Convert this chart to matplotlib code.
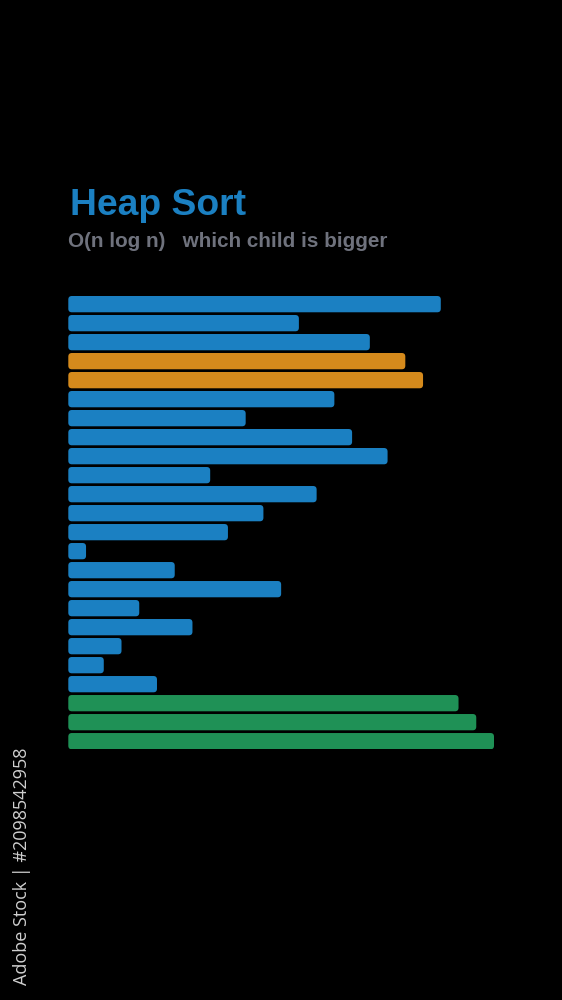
import numpy as np
import matplotlib
matplotlib.use("Agg")
import matplotlib.pyplot as plt
from matplotlib.patches import FancyBboxPatch

# bar values, top to bottom (heap sort snapshot)
values = [21, 13, 17, 19, 20, 15, 10, 16, 18, 8, 14, 11, 9, 1, 6, 12, 4, 7, 3, 2, 5, 22, 23, 24]
# state of each bar: heap / compared / sorted
states = ["heap"] * 3 + ["compare"] * 2 + ["heap"] * 16 + ["sorted"] * 3

title = "Heap Sort"
subtitle = "O(n log n)   which child is bigger"
stock_id = "Adobe Stock | #2098542958"

state_colors = {"heap": "#1b80c2", "compare": "#d58a1c", "sorted": "#1f9156"}

W, H = 562, 1000
fig = plt.figure(figsize=(W / 100, H / 100), dpi=100, facecolor="black")

# axes placed so bars sit where they do in the source frame
left, right, top, bottom = 68.3, 494.0, 296.0, 749.3
ax = fig.add_axes([left / W, 1 - bottom / H, (right - left) / W, (bottom - top) / H])
ax.set_facecolor("black")
ax.set_axis_off()

bar_h = 0.857
n = len(values)
ax.set_xlim(0, max(values))
ax.set_ylim(n - 1 + bar_h / 2, -bar_h / 2)

for i, (v, s) in enumerate(zip(values, states)):
    box = FancyBboxPatch((0, i - bar_h / 2), v, bar_h,
                         boxstyle="round,pad=0,rounding_size=0.2",
                         facecolor=state_colors[s], edgecolor="none",
                         mutation_aspect=0.93)
    ax.add_patch(box)

fig.text(70 / W, 1 - 215 / H, title, color="#1b80c2", fontsize=26.8,
         fontweight="bold", family="Liberation Sans", va="baseline", ha="left")
fig.text(68.3 / W, 1 - 247 / H, subtitle, color="#6f727d", fontsize=14.9,
         fontweight="bold", family="Liberation Sans", va="baseline", ha="left")

fig.text(22 / W, 1 - 985 / H, stock_id, color="#d0d0d0", fontsize=13,
         family="Open Sans", rotation=90, va="bottom", ha="center")

fig.savefig("out.png", dpi=100, facecolor="black")
